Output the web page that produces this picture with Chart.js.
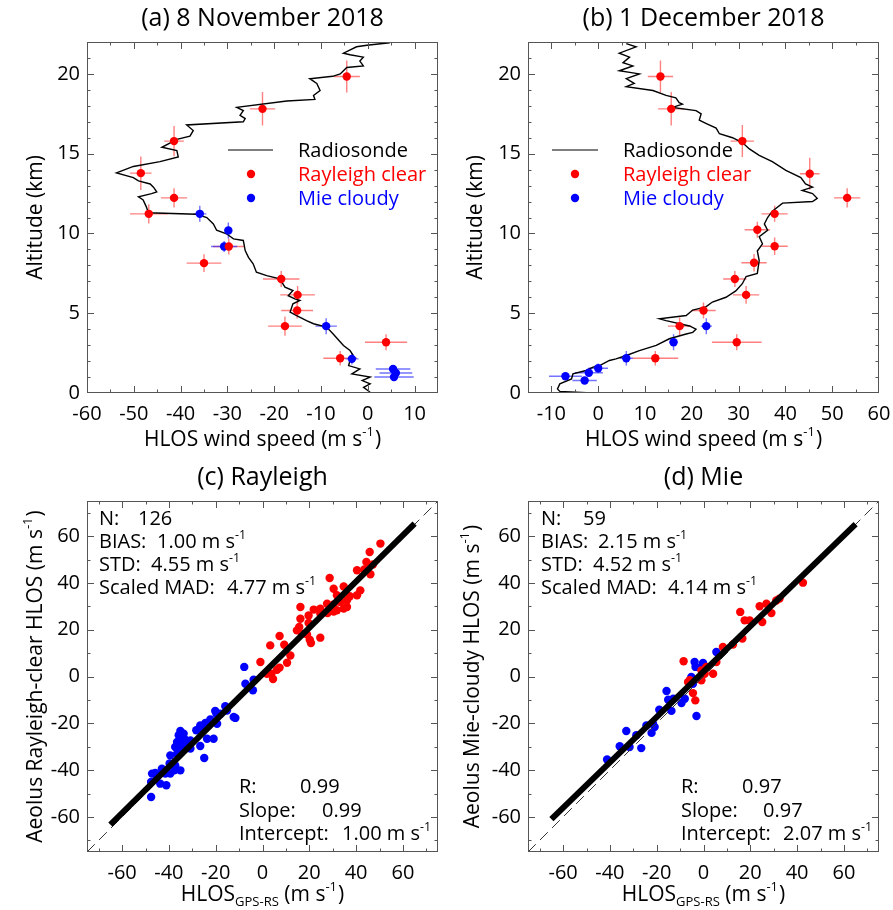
<!DOCTYPE html>
<html><head><meta charset="utf-8">
<script src="https://cdn.jsdelivr.net/npm/chart.js@4/dist/chart.umd.min.js"></script>
<style>
html,body{margin:0;padding:0;background:#fff;}
#wrap{position:relative;width:893px;height:910px;overflow:hidden;background:#fff;}
canvas{position:absolute;left:0;top:0;}
</style></head><body>
<div id="wrap">
<canvas id="pa" width="893" height="910"></canvas>
<canvas id="pb" width="893" height="910"></canvas>
<canvas id="pc" width="893" height="910"></canvas>
<canvas id="pd" width="893" height="910"></canvas>
</div>
<script>
// ---------------- DATA ----------------
// (a) 8 November 2018 : radiosonde profile (HLOS speed m/s, altitude km)
const rsA_spd = [4.7,-0.2,-2.4,-5.2,-3.8,-0.95,-1.7,-0.95,-4.5,-5.2,-5.9,-7.5,-12.4,-10.9,-10.2,-11.6,-11.3,-17.3,-28.0,-26.6,-27.3,-26.2,-26.6,-38.7,-37.3,-38.0,-40.8,-44.0,-40.8,-40.5,-44.4,-50.1,-53.7,-50.1,-49.0,-46.5,-45.8,-45.1,-46.2,-49.0,-48.0,-47.3,-46.9,-36.6,-34.4,-33.0,-32.3,-30.2,-28.7,-26.6,-26.2,-25.5,-24.5,-23.8,-21.6,-18.8,-17.7,-16.0,-17.0,-15.6,-14.5,-16.0,-16.6,-15.3,-13.1,-11.6,-8.8,-7.4,-5.2,-3.8,-3.1,-3.8,-4.1,-1.7,-3.4,0.5,-1.2,0.5,-0.9,0.5];
const rsA_alt = [21.95,21.8,21.7,21.3,21.2,21.05,20.8,20.5,20.4,20.2,20.0,19.85,19.7,19.4,18.96,18.65,18.4,18.3,17.9,17.7,17.4,17.2,17.0,16.8,16.45,16.1,15.9,15.4,15.2,14.8,14.5,14.2,13.8,13.5,13.3,13.1,12.9,12.6,12.5,12.3,12.1,11.65,11.3,11.2,11.0,10.6,10.2,9.98,9.66,9.56,8.93,8.5,8.1,7.57,7.36,7.15,6.63,6.42,6.1,5.9,5.8,5.59,5.07,4.86,4.54,4.34,4.13,3.7,2.98,2.66,2.35,2.04,1.72,1.51,1.2,1.0,0.78,0.57,0.36,0.05];
const rayA_spd  = [-4.5,-22.5,-41.4,-48.5,-41.4,-46.8,-29.7,-35.0,-18.5,-15.0,-15.1,-17.7,3.9,-5.9];
const rayA_alt  = [19.84,17.81,15.79,13.78,12.23,11.23,9.18,8.14,7.15,6.15,5.17,4.19,3.18,2.18];
const rayA_xerr = [2.8,2.7,2.1,2.3,2.8,4.0,3.4,3.7,3.9,3.7,3.4,3.6,4.5,3.6];
const rayA_yerr = [1.0,1.05,0.95,1.05,0.6,0.6,0.5,0.55,0.5,0.55,0.5,0.6,0.5,0.45];
const mieA_spd  = [-35.9,-29.8,-30.7,-8.9,-3.4,5.4,6.0,5.6];
const mieA_alt  = [11.23,10.19,9.18,4.19,2.14,1.5,1.25,1.0];
const mieA_xerr = [1.4,0.8,2.8,2.3,1.4,3.7,3.5,4.2];
const mieA_yerr = [0.5,0.5,0.35,0.5,0.35,0.25,0.25,0.25];

// (b) 1 December 2018
const rsB_spd = [6.0,8.1,4.5,6.7,5.3,7.4,4.5,8.8,6.0,7.7,6.0,11.7,14.5,16.6,17.3,18.0,15.9,20.9,22.0,21.6,23.0,25.2,25.9,28.7,30.8,32.3,34.4,37.2,40.1,43.3,44.3,45.8,43.6,45.8,46.8,45.8,39.4,37.2,36.2,35.5,36.2,34.4,35.1,34.0,34.4,34.0,31.6,30.8,29.4,27.3,24.4,23.0,20.2,18.8,13.1,14.5,19.5,20.9,20.2,18.8,15.2,12.4,8.8,6.0,3.8,2.4,0.3,-1.1,-2.6,-5.4,-5.7,-8.2,-8.7,-8.2,-2.5];
const rsB_alt = [21.9,21.7,21.3,21.05,20.7,20.5,20.2,20.0,19.7,19.4,19.2,18.96,18.65,18.5,18.2,18.1,17.9,17.7,17.5,17.1,16.9,16.6,16.25,16.0,15.7,15.3,14.9,14.5,13.95,13.5,13.1,12.9,12.7,12.5,12.2,12.0,11.9,11.4,11.0,10.6,10.2,9.8,9.35,8.9,8.3,7.5,7.3,6.85,6.4,6.0,5.7,5.4,5.2,4.86,4.65,4.54,4.2,4.0,3.8,3.7,3.4,2.98,2.66,2.35,2.14,2.04,1.72,1.62,1.41,1.2,0.88,0.57,0.26,0.1,0.02];
const rayB_spd  = [13.3,15.6,30.8,45.2,53.2,37.7,34.0,37.7,33.3,29.2,31.6,22.5,17.4,29.6,12.2];
const rayB_alt  = [19.84,17.81,15.79,13.74,12.23,11.23,10.23,9.2,8.16,7.15,6.15,5.17,4.19,3.18,2.18];
const rayB_xerr = [2.7,2.8,2.5,2.1,2.8,2.8,2.7,2.8,2.7,2.5,2.8,2.6,2.5,5.3,4.9];
const rayB_yerr = [1.0,1.05,1.0,1.0,0.6,0.5,0.5,0.55,0.55,0.5,0.55,0.5,0.55,0.5,0.45];
const mieB_spd  = [23.1,16.1,6.0,0.0,-2.0,-7.0,-2.9];
const mieB_alt  = [4.19,3.18,2.18,1.55,1.27,1.05,0.78];
const mieB_xerr = [1.2,0.9,1.4,2.1,3.0,3.5,2.6];
const mieB_yerr = [0.5,0.5,0.45,0.3,0.25,0.2,0.2];

// (c) Rayleigh scatter: x = HLOS GPS-RS, y = Aeolus
const rayC_dec_x = [50.4,45.8,44.4,47.2,40.4,43.5,46.1,28.7,34.7,30.4,41.8,40.4,31.8,37.3,36.1,33.3,30.4,27.6,36.1,34.7,31.8,30.4,24.7,21.9,16.2,27.8,24.7,19.7,16.2,19.7,15.7,14.7,16.9,19.0,24.7,20.2,20.7,7.3,3.3,9.3,11.9,-0.9,10.5,7.3,6.2,3.8,4.5,1.9];
const rayC_dec_y = [56.8,53.2,48.9,47.9,45.4,45.7,43.7,42.1,38.5,37.5,36.8,34.7,34.7,34.3,32.6,31.8,30.8,31.1,29.7,29.0,28.3,27.8,29.0,28.6,29.7,27.1,26.9,26.1,24.7,22.9,21.2,19.7,18.3,18.0,16.6,15.7,14.3,17.3,13.3,13.6,9.0,6.2,5.9,3.8,2.9,1.2,-1.1,1.2];
const rayC_nov_x = [-7.8,-3.8,-4.1,-7.3,-15.9,-20.2,-12.3,-11.6,-18.0,-19.7,-22.3,-24.4,-26.6,-19.4,-25.9,-28.3,-35.1,-35.8,-34.4,-35.1,-36.5,-33.4,-23.7,-20.9,-30.8,-32.5,-35.4,-37.3,-26.6,-30.8,-24.9,-35.1,-36.5,-39.4,-39.7,-37.3,-37.7,-35.1,-39.4,-45.8,-47.2,-41.5,-43.7,-41.1,-47.6,-47.6,-45.1,-43.0,-33.7,-32.3,-15.2];
const rayC_nov_y = [4.1,-1.4,-5.9,-3.1,-12.7,-14.7,-17.3,-17.7,-15.9,-15.9,-18.4,-19.9,-20.9,-20.2,-22.3,-23.0,-23.3,-25.1,-25.9,-27.3,-28.0,-26.6,-26.6,-26.6,-27.3,-28.7,-30.1,-30.1,-29.7,-30.8,-34.8,-31.5,-33.0,-33.7,-37.2,-38.0,-40.1,-40.1,-41.5,-41.2,-41.5,-41.5,-45.8,-46.5,-45.1,-51.5,-42.9,-39.4,-24.4,-30.1,-14.5];
const rayC_fit = { slope: 0.99, intercept: 1.00, from: -65, to: 65 };

// (d) Mie scatter
const mieD_dec_x = [42.5,31.1,32.5,26.9,24.0,29.0,25.1,19.7,17.6,15.7,16.6,12.6,8.3,5.5,1.2,-0.9,0.5,-0.9,-8.5,-5.9,-6.6,-4.5,-3.5,4.1];
const mieD_dec_y = [40.1,32.5,33.3,31.1,30.0,27.1,23.3,24.0,24.0,27.6,16.2,13.7,12.6,6.2,4.1,2.6,1.2,-1.6,6.5,-1.6,-2.4,-7.1,-10.2,1.2];
const mieD_nov_x = [5.5,-3.8,-0.2,-3.4,-1.0,-5.2,-4.5,-8.0,-9.4,-12.9,-15.8,-15.1,-18.9,-13.7,-3.0,-21.6,-24.4,-22.2,-20.9,-33.0,-28.7,-31.6,-26.6,-35.8,-41.2];
const mieD_nov_y = [10.5,6.2,5.8,4.1,4.1,-0.2,-3.1,-9.5,-11.3,-9.5,-6.2,-9.9,-14.2,-14.7,-16.9,-20.2,-20.9,-24.1,-21.6,-23.3,-25.1,-30.1,-30.6,-29.8,-35.5];
const mieD_fit = { slope: 0.97, intercept: 2.07, from: -65, to: 65 };

// axes / tick labels
const profX_A = [-60,-50,-40,-30,-20,-10,0,10];
const profX_B = [-10,0,10,20,30,40,50,60];
const profY   = [0,5,10,15,20];
const scatTicks = [-60,-40,-20,0,20,40,60];
const oneToOne = [-75,75];

// ---------------- RENDERING ----------------
const FONT = "'Open Sans', sans-serif";
const W = 893, H = 910;
const RED = 'rgb(255,0,0)', BLUE = 'rgb(0,0,255)';
const RED_ERR = 'rgba(255,60,60,0.65)', BLUE_ERR = 'rgba(40,40,255,0.65)';
const PR = 4.2;
const pts = (xs, ys) => xs.map((x, i) => ({ x: x, y: ys[i] }));
const range = (a, b, s) => { const r = []; for (let v = a; v <= b + 1e-9; v += s) r.push(+v.toFixed(6)); return r; };
const sup = t => ({ t: t, sup: true }), sub = t => ({ t: t, sub: true }), n = t => ({ t: t });
const ms = v => [n(v + ' m s'), sup('-1')];

function drawRich(ctx, it) {
  const size = it.size || 20;
  let total = 0;
  const parts = it.segs.map(s => {
    const fs = (s.sup || s.sub) ? size * 0.62 : size;
    ctx.font = fs + 'px ' + FONT;
    const w = ctx.measureText(s.t).width + (s.sup ? 1 : 0);
    total += w;
    return { s: s, fs: fs, w: w };
  });
  ctx.save();
  ctx.translate(it.x, it.y);
  if (it.rot) ctx.rotate(it.rot);
  let x = it.align === 'center' ? -total / 2 : (it.align === 'right' ? -total : 0);
  ctx.fillStyle = it.color || '#000';
  ctx.textBaseline = 'alphabetic';
  ctx.textAlign = 'left';
  const base = size * 0.36;
  parts.forEach(p => {
    ctx.font = p.fs + 'px ' + FONT;
    let dy = base;
    if (p.s.sup) dy = base - size * 0.45;
    if (p.s.sub) dy = base + size * 0.28;
    ctx.fillText(p.s.t, x, dy);
    x += p.w;
  });
  ctx.restore();
}

const DECO = {};
const decoPlugin = {
  id: 'deco',
  beforeDatasetsDraw(chart) {
    const ctx = chart.ctx, xs = chart.scales.x, ys = chart.scales.y, a = chart.chartArea;
    ctx.save();
    ctx.beginPath(); ctx.rect(a.left, a.top, a.right - a.left, a.bottom - a.top); ctx.clip();
    chart.data.datasets.forEach(ds => {
      if (!ds.errX) return;
      ctx.strokeStyle = ds.errColor; ctx.lineWidth = 1.4;
      ds.data.forEach((p, j) => {
        const px = xs.getPixelForValue(p.x), py = ys.getPixelForValue(p.y);
        const x0 = xs.getPixelForValue(p.x - ds.errX[j]), x1 = xs.getPixelForValue(p.x + ds.errX[j]);
        const y0 = ys.getPixelForValue(p.y - ds.errY[j]), y1 = ys.getPixelForValue(p.y + ds.errY[j]);
        ctx.beginPath();
        ctx.moveTo(x0, py); ctx.lineTo(x1, py);
        ctx.moveTo(px, y0); ctx.lineTo(px, y1);
        ctx.stroke();
      });
    });
    ctx.restore();
  },
  afterDraw(chart) {
    const d = DECO[chart.canvas.id]; if (!d) return;
    const ctx = chart.ctx, xs = chart.scales.x, ys = chart.scales.y, a = chart.chartArea;
    ctx.save();
    ctx.strokeStyle = '#555'; ctx.lineWidth = 1;
    ctx.strokeRect(Math.round(a.left) + 0.5, Math.round(a.top) + 0.5, Math.round(a.right - a.left) - 1, Math.round(a.bottom - a.top) - 1);
    const tick = (vals, len) => {
      vals.forEach(v => {
        const px = Math.round(xs.getPixelForValue(v)) + 0.5;
        if (px < a.left + 2 || px > a.right - 2) return;
        ctx.beginPath();
        ctx.moveTo(px, a.bottom); ctx.lineTo(px, a.bottom - len);
        ctx.moveTo(px, a.top); ctx.lineTo(px, a.top + len);
        ctx.stroke();
      });
    };
    const ticky = (vals, len) => {
      vals.forEach(v => {
        const py = Math.round(ys.getPixelForValue(v)) + 0.5;
        if (py < a.top + 2 || py > a.bottom - 2) return;
        ctx.beginPath();
        ctx.moveTo(a.left, py); ctx.lineTo(a.left + len, py);
        ctx.moveTo(a.right, py); ctx.lineTo(a.right - len, py);
        ctx.stroke();
      });
    };
    tick(d.xMinor, 3.5); tick(d.xMajor, 7);
    ticky(d.yMinor, 3.5); ticky(d.yMajor, 7);
    ctx.restore();
    if (d.legend) {
      const L = d.legend;
      ctx.save();
      ctx.strokeStyle = '#555'; ctx.lineWidth = 1.5;
      ctx.beginPath(); ctx.moveTo(L.lx0, L.ys[0]); ctx.lineTo(L.lx1, L.ys[0]); ctx.stroke();
      [[RED, L.ys[1]], [BLUE, L.ys[2]]].forEach(c => {
        ctx.fillStyle = c[0]; ctx.beginPath(); ctx.arc(L.mx, c[1], PR, 0, Math.PI * 2); ctx.fill();
      });
      ctx.restore();
      drawRich(ctx, { x: L.tx, y: L.ys[0], segs: [n('Radiosonde')], size: 20 });
      drawRich(ctx, { x: L.tx, y: L.ys[1], segs: [n('Rayleigh clear')], size: 20, color: RED });
      drawRich(ctx, { x: L.tx, y: L.ys[2], segs: [n('Mie cloudy')], size: 20, color: BLUE });
    }
    d.texts.forEach(t => drawRich(ctx, t));
  }
};

function axisCfg(ax, horiz, size) {
  return {
    type: 'linear', position: horiz ? 'bottom' : 'left', min: ax.min, max: ax.max, bounds: 'data',
    grid: { display: false, drawTicks: false }, border: { display: false },
    afterBuildTicks: s => { s.ticks = ax.labels.map(v => ({ value: v })); },
    afterFit: s => {
      if (horiz) { s.height = size; s.paddingLeft = 0; s.paddingRight = 0; }
      else { s.width = size; s.paddingTop = 0; s.paddingBottom = 0; }
    },
    ticks: { autoSkip: false, maxRotation: 0, minRotation: 0, padding: horiz ? 9 : 7, color: '#000',
      font: { family: FONT, size: 20 }, callback: v => String(v) }
  };
}

function makePanel(id, area, xax, yax, datasets, deco) {
  const YW = 70, XH = 60;
  DECO[id] = deco;
  return new Chart(document.getElementById(id), {
    type: 'scatter',
    data: { datasets: datasets },
    options: {
      responsive: false, animation: false, devicePixelRatio: 1,
      events: [],
      layout: { padding: { left: area.l - YW, top: area.t, right: W - area.r, bottom: H - area.b - XH } },
      plugins: { legend: { display: false }, tooltip: { enabled: false }, title: { display: false } },
      scales: { x: axisCfg(xax, true, XH), y: axisCfg(yax, false, YW) }
    },
    plugins: [decoPlugin]
  });
}

function profileSets(rsS, rsA, rS, rA, rX, rY, mS, mA, mX, mY) {
  return [
    { data: pts(rS, rA), errX: rX, errY: rY, errColor: RED_ERR, backgroundColor: RED, pointRadius: PR, pointBorderWidth: 0, order: 1 },
    { data: pts(mS, mA), errX: mX, errY: mY, errColor: BLUE_ERR, backgroundColor: BLUE, pointRadius: PR, pointBorderWidth: 0, order: 1 },
    { data: pts(rsS, rsA), showLine: true, borderColor: '#000', borderWidth: 1.4, pointRadius: 0, tension: 0, order: 2 }
  ];
}
function scatterSets(dx, dy, nx, ny, fit) {
  const fx = [fit.from, fit.to];
  return [
    { data: pts(fx, fx.map(v => fit.slope * v + fit.intercept)), showLine: true, borderColor: '#000', borderWidth: 6, pointRadius: 0, order: 0 },
    { data: pts(oneToOne, oneToOne), showLine: true, borderColor: '#333', borderWidth: 1, borderDash: [11, 6], pointRadius: 0, order: 0 },
    { data: pts(dx, dy), backgroundColor: RED, pointRadius: PR, pointBorderWidth: 0, order: 1 },
    { data: pts(nx, ny), backgroundColor: BLUE, pointRadius: PR, pointBorderWidth: 0, order: 1 }
  ];
}

const TOP = { t: 42, b: 393 }, BOT = { t: 501, b: 852 };
const LEFT = { l: 87, r: 438 }, RIGHT = { l: 528, r: 879 };
const hlosTitle = [n('HLOS wind speed (m s'), sup('-1'), n(')')];
const gpsTitle = [n('HLOS'), sub('GPS-RS'), n(' (m s'), sup('-1'), n(')')];
const ROT = -Math.PI / 2;

makePanel('pa', { l: LEFT.l, r: LEFT.r, t: TOP.t, b: TOP.b },
  { min: -60, max: 15, labels: profX_A }, { min: 0, max: 22, labels: profY },
  profileSets(rsA_spd, rsA_alt, rayA_spd, rayA_alt, rayA_xerr, rayA_yerr, mieA_spd, mieA_alt, mieA_xerr, mieA_yerr),
  { xMajor: range(-60, 10, 10), xMinor: range(-55, 10, 5), yMajor: range(0, 20, 5), yMinor: range(1, 21, 1),
    legend: { lx0: 228, lx1: 273, mx: 251, tx: 298, ys: [150, 174, 198] },
    texts: [
      { x: 262.5, y: 17, segs: [n('(a) 8 November 2018')], size: 25, align: 'center' },
      { x: 262.5, y: 438, segs: hlosTitle, size: 21, align: 'center' },
      { x: 34, y: 217.5, segs: [n('Altitude (km)')], size: 21, align: 'center', rot: ROT }
    ] });

makePanel('pb', { l: RIGHT.l, r: RIGHT.r, t: TOP.t, b: TOP.b },
  { min: -15, max: 60, labels: profX_B }, { min: 0, max: 22, labels: profY },
  profileSets(rsB_spd, rsB_alt, rayB_spd, rayB_alt, rayB_xerr, rayB_yerr, mieB_spd, mieB_alt, mieB_xerr, mieB_yerr),
  { xMajor: range(-10, 60, 10), xMinor: range(-15, 60, 5), yMajor: range(0, 20, 5), yMinor: range(1, 21, 1),
    legend: { lx0: 552, lx1: 598, mx: 575, tx: 623, ys: [150, 174, 198] },
    texts: [
      { x: 703.5, y: 17, segs: [n('(b) 1 December 2018')], size: 25, align: 'center' },
      { x: 703.5, y: 438, segs: hlosTitle, size: 21, align: 'center' },
      { x: 474, y: 217.5, segs: [n('Altitude (km)')], size: 21, align: 'center', rot: ROT }
    ] });

makePanel('pc', { l: LEFT.l, r: LEFT.r, t: BOT.t, b: BOT.b },
  { min: -75, max: 75, labels: scatTicks }, { min: -75, max: 75, labels: scatTicks },
  scatterSets(rayC_dec_x, rayC_dec_y, rayC_nov_x, rayC_nov_y, rayC_fit),
  { xMajor: range(-60, 60, 20), xMinor: range(-70, 70, 10), yMajor: range(-60, 60, 20), yMinor: range(-70, 70, 10),
    texts: [
      { x: 262.5, y: 476, segs: [n('(c) Rayleigh')], size: 25, align: 'center' },
      { x: 262.5, y: 893, segs: gpsTitle, size: 21, align: 'center' },
      { x: 34, y: 676.5, segs: [n('Aeolus Rayleigh-clear HLOS (m s'), sup('-1'), n(')')], size: 21, align: 'center', rot: ROT },
      { x: 99, y: 518, segs: [n('N:')] }, { x: 138, y: 518, segs: [n('126')] },
      { x: 99, y: 541, segs: [n('BIAS:')] }, { x: 157, y: 541, segs: ms('1.00') },
      { x: 99, y: 564, segs: [n('STD:')] }, { x: 151, y: 564, segs: ms('4.55') },
      { x: 99, y: 587, segs: [n('Scaled MAD:')] }, { x: 227, y: 587, segs: ms('4.77') },
      { x: 239, y: 786, segs: [n('R:')] }, { x: 300, y: 786, segs: [n('0.99')] },
      { x: 239, y: 810, segs: [n('Slope:')] }, { x: 322, y: 810, segs: [n('0.99')] },
      { x: 239, y: 833, segs: [n('Intercept:')] }, { x: 342, y: 833, segs: ms('1.00') }
    ] });

makePanel('pd', { l: RIGHT.l, r: RIGHT.r, t: BOT.t, b: BOT.b },
  { min: -75, max: 75, labels: scatTicks }, { min: -75, max: 75, labels: scatTicks },
  scatterSets(mieD_dec_x, mieD_dec_y, mieD_nov_x, mieD_nov_y, mieD_fit),
  { xMajor: range(-60, 60, 20), xMinor: range(-70, 70, 10), yMajor: range(-60, 60, 20), yMinor: range(-70, 70, 10),
    texts: [
      { x: 703.5, y: 476, segs: [n('(d) Mie')], size: 25, align: 'center' },
      { x: 703.5, y: 893, segs: gpsTitle, size: 21, align: 'center' },
      { x: 471, y: 676.5, segs: [n('Aeolus Mie-cloudy HLOS (m s'), sup('-1'), n(')')], size: 21, align: 'center', rot: ROT },
      { x: 541, y: 518, segs: [n('N:')] }, { x: 583, y: 518, segs: [n('59')] },
      { x: 541, y: 541, segs: [n('BIAS:')] }, { x: 598, y: 541, segs: ms('2.15') },
      { x: 541, y: 564, segs: [n('STD:')] }, { x: 593, y: 564, segs: ms('4.52') },
      { x: 541, y: 587, segs: [n('Scaled MAD:')] }, { x: 668, y: 587, segs: ms('4.14') },
      { x: 681, y: 786, segs: [n('R:')] }, { x: 742, y: 786, segs: [n('0.97')] },
      { x: 681, y: 810, segs: [n('Slope:')] }, { x: 763, y: 810, segs: [n('0.97')] },
      { x: 681, y: 833, segs: [n('Intercept:')] }, { x: 783, y: 833, segs: ms('2.07') }
    ] });
</script>
</body></html>
